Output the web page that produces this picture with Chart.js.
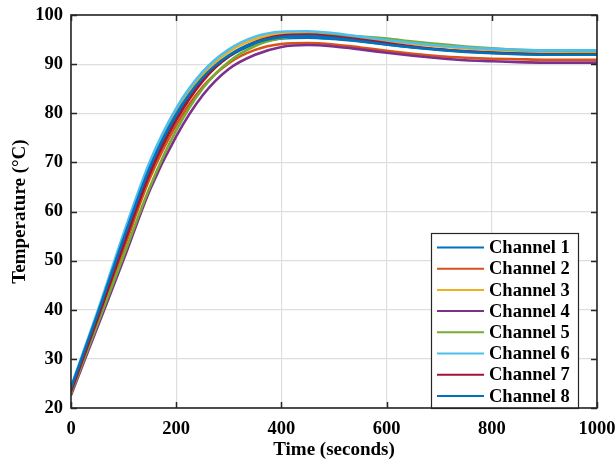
<!DOCTYPE html>
<html>
<head>
<meta charset="utf-8">
<script src="https://cdn.jsdelivr.net/npm/chart.js@4"></script>
<style>
  html, body { margin: 0; padding: 0; background: #fff; }
  #wrap { width: 616px; height: 463px; }
</style>
</head>
<body>
<div id="wrap"><canvas id="tempChart" width="616" height="463"></canvas></div>
<script>
// czasy próbek (s)
const times = [0, 50, 100, 150, 200, 250, 300, 350, 400, 450, 500, 550, 600, 650, 700, 750, 800, 850, 900, 950, 1000];

// odczyty temperatur dla kanałów (°C)
const channel1 = [23.8, 38.6, 54.0, 68.6, 79.3, 86.8, 91.5, 94.1, 95.2, 95.4, 95.1, 94.6, 94.0, 93.4, 93.0, 92.6, 92.4, 92.2, 92.1, 92.1, 92.1];
const channel2 = [23.1, 37.4, 52.3, 66.8, 77.6, 85.3, 90.2, 92.9, 94.1, 94.3, 94.0, 93.4, 92.7, 92.1, 91.6, 91.3, 91.1, 91.0, 90.9, 90.9, 90.9];
const channel3 = [24.0, 39.0, 54.8, 69.5, 80.3, 87.8, 92.5, 95.1, 96.2, 96.3, 96.0, 95.4, 94.7, 94.1, 93.6, 93.2, 92.9, 92.7, 92.6, 92.5, 92.5];
const channel4 = [22.6, 36.4, 50.2, 64.4, 75.3, 83.6, 89.0, 91.9, 93.5, 93.9, 93.6, 93.0, 92.3, 91.7, 91.2, 90.8, 90.6, 90.4, 90.3, 90.3, 90.3];
const channel5 = [23.0, 37.0, 51.0, 65.0, 76.5, 85.0, 90.5, 93.7, 95.3, 95.9, 95.9, 95.6, 95.2, 94.6, 94.1, 93.6, 93.2, 92.9, 92.8, 92.7, 92.7];
const channel6 = [24.3, 39.5, 55.5, 70.2, 81.0, 88.4, 93.0, 95.6, 96.6, 96.7, 96.3, 95.6, 94.9, 94.3, 93.8, 93.4, 93.1, 92.9, 92.8, 92.8, 92.8];
const channel7 = [23.4, 38.0, 53.2, 67.8, 78.6, 86.5, 91.6, 94.5, 95.8, 96.0, 95.6, 95.0, 94.3, 93.6, 93.0, 92.6, 92.3, 92.1, 92.0, 92.0, 92.0];
const channel8 = [24.1, 39.0, 54.5, 69.0, 79.8, 87.2, 91.8, 94.4, 95.5, 95.7, 95.3, 94.7, 94.0, 93.4, 92.9, 92.5, 92.2, 92.0, 91.9, 91.9, 91.9];

const channelLabels = ['Channel 1', 'Channel 2', 'Channel 3', 'Channel 4', 'Channel 5', 'Channel 6', 'Channel 7', 'Channel 8'];
const channelValues = [channel1, channel2, channel3, channel4, channel5, channel6, channel7, channel8];

// kolory jak w MATLAB
const channelColors = ['#0072BD', '#D95319', '#EDB120', '#7E2F8E', '#77AC30', '#4DBEEE', '#A2142F', '#0072BD'];

const xTicks = [0, 200, 400, 600, 800, 1000];
const yTicks = [20, 30, 40, 50, 60, 70, 80, 90, 100];

const FONT = '"Liberation Serif", "Times New Roman", serif';
const FRAME = '#262626';

const datasets = channelValues.map((vals, i) => ({
    label: channelLabels[i],
    data: times.map((t, k) => ({ x: t, y: vals[k] })),
    borderColor: channelColors[i],
    backgroundColor: channelColors[i],
    borderWidth: 2.6,
    pointRadius: 0,
    cubicInterpolationMode: 'monotone',
    fill: false,
    order: channelValues.length - 1 - i // ostatni kanał na wierzchu
}));

// ramka, ticki do środka i legenda w stylu MATLAB
const matlabBox = {
    id: 'matlabBox',
    afterDraw(chart) {
        const { ctx, chartArea: a, scales } = chart;
        const x = scales.x, y = scales.y;
        ctx.save();

        // ticki skierowane do środka
        ctx.strokeStyle = FRAME;
        ctx.lineWidth = 1.5;
        const tl = 6;
        ctx.beginPath();
        for (const t of xTicks) {
            const px = Math.round(x.getPixelForValue(t)) + 0.5;
            ctx.moveTo(px, a.bottom); ctx.lineTo(px, a.bottom - tl);
            ctx.moveTo(px, a.top); ctx.lineTo(px, a.top + tl);
        }
        for (const t of yTicks) {
            const py = Math.round(y.getPixelForValue(t)) + 0.5;
            ctx.moveTo(a.left, py); ctx.lineTo(a.left + tl, py);
            ctx.moveTo(a.right, py); ctx.lineTo(a.right - tl, py);
        }
        ctx.stroke();

        // legenda
        const lw = 147, lh = 175;
        const lx = a.right - 19 - lw;
        const ly = a.bottom - lh;
        ctx.fillStyle = '#fff';
        ctx.fillRect(lx, ly, lw, lh);
        ctx.strokeStyle = FRAME;
        ctx.lineWidth = 1.2;
        ctx.strokeRect(lx + 0.5, ly + 0.5, lw, lh);

        ctx.font = 'bold 18.5px ' + FONT;
        ctx.textBaseline = 'middle';
        ctx.textAlign = 'left';
        channelLabels.forEach((lab, i) => {
            const cy = ly + 14.5 + i * 21.2;
            ctx.strokeStyle = channelColors[i];
            ctx.lineWidth = 2;
            ctx.beginPath();
            ctx.moveTo(lx + 6, cy); ctx.lineTo(lx + 53, cy);
            ctx.stroke();
            ctx.fillStyle = '#000';
            ctx.fillText(lab, lx + 58, cy + 1);
        });

        // ramka osi
        ctx.strokeStyle = FRAME;
        ctx.lineWidth = 1.6;
        ctx.strokeRect(a.left, a.top, a.right - a.left, a.bottom - a.top);
        ctx.restore();
    }
};

new Chart(document.getElementById('tempChart').getContext('2d'), {
    type: 'line',
    data: { datasets },
    plugins: [matlabBox],
    options: {
        responsive: false,
        animation: false,
        devicePixelRatio: 1,
        layout: { padding: { top: 15, right: 19, left: 0, bottom: 2 } },
        plugins: {
            legend: { display: false },
            tooltip: { enabled: false }
        },
        scales: {
            x: {
                type: 'linear',
                min: 0,
                max: 1000,
                afterBuildTicks: (s) => { s.ticks = xTicks.map(v => ({ value: v })); },
                afterFit: (s) => { s.height = 53; s.paddingLeft = 0; s.paddingRight = 0; },
                ticks: {
                    color: '#000',
                    padding: 10,
                    maxRotation: 0,
                    callback: (v) => String(v),
                    font: { family: FONT, size: 18.5, weight: 'bold' }
                },
                grid: { color: '#dedede', lineWidth: 1.2, drawTicks: false },
                border: { display: false },
                title: {
                    display: true,
                    text: 'Time (seconds)',
                    color: '#000',
                    padding: { top: 2, bottom: 0 },
                    font: { family: FONT, size: 19, weight: 'bold' }
                }
            },
            y: {
                min: 20,
                max: 100,
                afterBuildTicks: (s) => { s.ticks = yTicks.map(v => ({ value: v })); },
                afterFit: (s) => { s.width = 71; s.paddingTop = 0; s.paddingBottom = 0; },
                ticks: {
                    color: '#000',
                    padding: 8,
                    callback: (v) => String(v),
                    font: { family: FONT, size: 18.5, weight: 'bold' }
                },
                grid: { color: '#dedede', lineWidth: 1.2, drawTicks: false },
                border: { display: false },
                title: {
                    display: true,
                    text: 'Temperature (°C)',
                    color: '#000',
                    padding: { top: 9, bottom: 0 },
                    font: { family: FONT, size: 19, weight: 'bold' }
                }
            }
        }
    }
});
</script>
</body>
</html>
